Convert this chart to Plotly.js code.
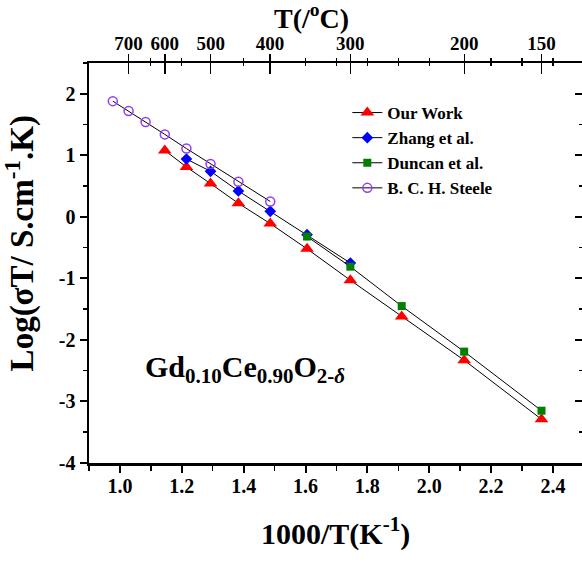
<!DOCTYPE html>
<html>
<head>
<meta charset="utf-8">
<script src="https://cdn.plot.ly/plotly-3.0.1.min.js"></script>
<style>html,body{margin:0;padding:0;background:#fff;}#chart{width:582px;height:566px;}</style>
</head>
<body>
<div id="chart"></div>
<script>
// ---- data (x = 1000/T in K^-1, y = log(sigma*T)) ----
var ourWorkX = [1.145, 1.215, 1.293, 1.383, 1.486, 1.605, 1.745, 1.911, 2.113, 2.363];
var ourWorkY = [1.08, 0.81, 0.54, 0.22, -0.11, -0.52, -1.03, -1.62, -2.33, -3.29];

var zhangX = [1.215, 1.293, 1.383, 1.486, 1.605, 1.745];
var zhangY = [0.94, 0.74, 0.42, 0.09, -0.29, -0.75];

var duncanX = [1.605, 1.745, 1.911, 2.113, 2.363];
var duncanY = [-0.32, -0.81, -1.45, -2.19, -3.15];

var steeleX = [0.977, 1.028, 1.083, 1.145, 1.215, 1.293, 1.383, 1.486];
var steeleY = [1.88, 1.72, 1.54, 1.34, 1.11, 0.86, 0.57, 0.25];

var seriesNames = ['Our Work', 'Zhang et al.', 'Duncan et al.', 'B. C. H. Steele'];

// tick labels
var xTickVals = [1.0, 1.2, 1.4, 1.6, 1.8, 2.0, 2.2, 2.4];
var xTickLabels = ['1.0', '1.2', '1.4', '1.6', '1.8', '2.0', '2.2', '2.4'];
var topTempLabels = [700, 600, 500, 400, 300, 200, 150];   // deg C
var topMinorVals = [1.1, 1.2, 1.4, 1.6, 1.7, 1.8, 1.9, 2.0, 2.2, 2.3, 2.4];
var yTickVals = [-4, -3, -2, -1, 0, 1, 2];
var yTickLabels = ['-4', '-3', '-2', '-1', '0', '1', '2'];

var FONT = 'Liberation Serif, Times New Roman, serif';
function b(s) { return '<b>' + s + '</b>'; }
var topTickVals = topTempLabels.map(function (t) { return 1000 / (t + 273.15); });
var topTickText = topTempLabels.map(function (t) { return b(String(t)); });

function tr(x, y, name, marker) {
  return {
    x: x, y: y, name: b(name), type: 'scatter', mode: 'lines+markers',
    xaxis: 'x', yaxis: 'y',
    line: {color: '#000', width: 1},
    marker: marker
  };
}
function dummy(xa, ya) {
  return {x: [0], y: [-100], xaxis: xa, yaxis: ya, type: 'scatter', mode: 'markers',
          showlegend: false, hoverinfo: 'skip', marker: {size: 1, color: 'rgba(0,0,0,0)'}};
}

var data = [
  tr(ourWorkX, ourWorkY, seriesNames[0], {symbol: 'triangle-up', size: 12, color: 'rgb(255,0,0)'}),
  tr(zhangX, zhangY, seriesNames[1], {symbol: 'diamond', size: 9, color: 'rgb(0,0,255)'}),
  tr(duncanX, duncanY, seriesNames[2], {symbol: 'square', size: 8, color: 'rgb(0,128,0)'}),
  tr(steeleX, steeleY, seriesNames[3], {symbol: 'circle-open', size: 9, color: 'rgb(150,60,240)', line: {width: 1.5, color: 'rgb(150,60,240)'}}),
  dummy('x2', 'y'), dummy('x3', 'y'), dummy('x', 'y2')
];

var xr = [0.9, 0.9 + 493 / 309.3];
var yr = [-4, 2.5];
var tickFont = {family: FONT, size: 20, color: '#000'};

var layout = {
  width: 582, height: 566,
  margin: {l: 89, r: 0, t: 63, b: 103},
  paper_bgcolor: '#fff', plot_bgcolor: '#fff',
  showlegend: true,
  legend: {
    x: 0.524, y: 0.92, xanchor: 'left', yanchor: 'top',
    bgcolor: 'rgba(0,0,0,0)', borderwidth: 0,
    font: {family: FONT, size: 17, color: '#000'},
    tracegroupgap: 0, itemsizing: 'trace'
  },
  xaxis: {
    range: xr, showgrid: false, zeroline: false,
    showline: true, linecolor: '#000', linewidth: 2.5,
    ticks: 'outside', ticklen: 7, tickwidth: 2, tickcolor: '#000',
    tickmode: 'array', tickvals: xTickVals, ticktext: xTickLabels.map(b),
    tickfont: tickFont, ticklabelstandoff: -4,
    minor: {tickmode: 'linear', dtick: 0.1, tick0: 0.9, ticks: 'outside', ticklen: 5, tickwidth: 1.5, tickcolor: '#000', showgrid: false},
    anchor: 'y'
  },
  xaxis2: {
    range: xr, overlaying: 'x', side: 'top', anchor: 'y',
    showgrid: false, zeroline: false,
    showline: true, linecolor: '#000', linewidth: 2.5,
    ticks: 'outside', ticklen: 7, tickwidth: 1.5, tickcolor: '#000',
    tickmode: 'array', tickvals: topTickVals, ticktext: topTickText,
    tickfont: {family: FONT, size: 19, color: '#000'}, ticklabelstandoff: -4,
    minor: {tickmode: 'array', tickvals: topMinorVals, ticks: 'outside', ticklen: 3, tickwidth: 1.2, tickcolor: '#000', showgrid: false}
  },
  xaxis3: {
    range: xr, overlaying: 'x', side: 'top', anchor: 'y',
    showgrid: false, zeroline: false, showline: false,
    ticks: 'inside', ticklen: 11, tickwidth: 1.5, tickcolor: '#000',
    tickmode: 'array', tickvals: topTickVals, showticklabels: false,
    minor: {tickmode: 'array', tickvals: topMinorVals, ticks: 'inside', ticklen: 3, tickwidth: 1.2, tickcolor: '#000', showgrid: false}
  },
  yaxis: {
    range: yr, showgrid: false, zeroline: false,
    showline: true, linecolor: '#000', linewidth: 2.5,
    ticks: 'outside', ticklen: 7, tickwidth: 2, tickcolor: '#000',
    tickmode: 'array', tickvals: yTickVals, ticktext: yTickLabels.map(b),
    tickfont: tickFont,
    minor: {tickmode: 'linear', dtick: 0.5, tick0: 0, ticks: 'outside', ticklen: 4, tickwidth: 1.5, tickcolor: '#000', showgrid: false},
    anchor: 'x'
  },
  yaxis2: {
    range: yr, overlaying: 'y', side: 'right', anchor: 'x',
    showgrid: false, zeroline: false,
    showline: true, linecolor: '#aaa', linewidth: 1,
    ticks: 'inside', ticklen: 7, tickwidth: 2, tickcolor: '#000',
    tickmode: 'array', tickvals: yTickVals, showticklabels: false,
    minor: {tickmode: 'linear', dtick: 0.5, tick0: 0, ticks: 'inside', ticklen: 3, tickwidth: 1.5, tickcolor: '#000', showgrid: false}
  },
  annotations: [
    {text: b('T(/<sup>o</sup>C)'), xref: 'paper', yref: 'paper', x: 0.452, y: 1.116,
     xanchor: 'center', yanchor: 'middle', showarrow: false,
     font: {family: FONT, size: 28, color: '#000'}},
    {text: b('1000/T(K<sup>-1</sup>)'), xref: 'paper', yref: 'paper', x: 0.5, y: -0.172,
     xanchor: 'center', yanchor: 'middle', showarrow: false,
     font: {family: FONT, size: 30, color: '#000'}},
    {text: b('Log(σT/ S.cm<sup>-1</sup>.K)'), xref: 'paper', yref: 'paper', x: -0.14, y: 0.549,
     xanchor: 'center', yanchor: 'middle', showarrow: false, textangle: -90,
     font: {family: FONT, size: 33, color: '#000'}},
    {text: b('Gd<sub>0.10</sub>Ce<sub>0.90</sub>O<sub>2-<i>δ</i></sub>'), xref: 'paper', yref: 'paper', x: 0.11, y: 0.235,
     xanchor: 'left', yanchor: 'middle', showarrow: false,
     font: {family: FONT, size: 30, color: '#000'}}
  ]
};

Plotly.newPlot('chart', data, layout, {displayModeBar: false, staticPlot: true});
</script>
</body>
</html>
